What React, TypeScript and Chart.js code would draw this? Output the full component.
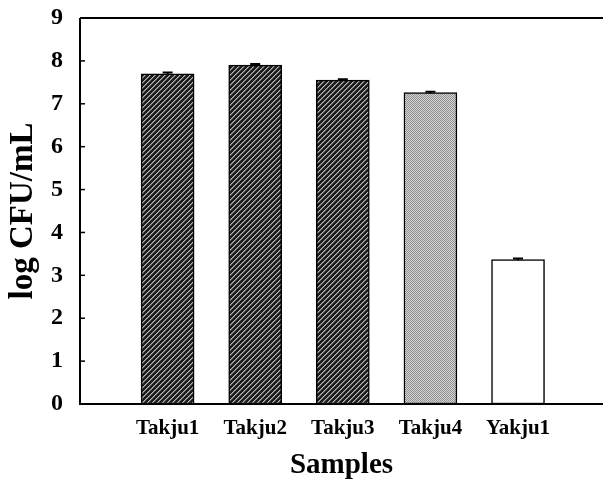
import React, { useEffect, useRef } from "react";
import { Chart, registerables } from "chart.js";

Chart.register(...registerables);

const categories = ["Takju1", "Takju2", "Takju3", "Takju4", "Yakju1"];
const values = [7.7, 7.9, 7.55, 7.26, 3.37];
const errors = [0.03, 0.03, 0.02, 0.02, 0.02];
const yTicks = [0, 1, 2, 3, 4, 5, 6, 7, 8, 9];
const xPositions = [1, 2, 3, 4, 5];

function makeHatch(): CanvasPattern | string {
  const c = document.createElement("canvas");
  c.width = 5;
  c.height = 5;
  const ctx = c.getContext("2d");
  if (!ctx) return "#444";
  ctx.fillStyle = "#1c1c1c";
  ctx.fillRect(0, 0, 5, 5);
  for (let i = 0; i < 5; i++) {
    ctx.fillStyle = "#b8b8b8";
    ctx.fillRect(i, 4 - i, 1, 1);
    ctx.fillStyle = "#6a6a6a";
    ctx.fillRect(i, (5 - i) % 5, 1, 1);
  }
  return ctx.createPattern(c, "repeat") || "#444";
}

function makeMottle(): CanvasPattern | string {
  const c = document.createElement("canvas");
  c.width = 2;
  c.height = 2;
  const ctx = c.getContext("2d");
  if (!ctx) return "#b0b0b0";
  ctx.fillStyle = "#d8d8d8";
  ctx.fillRect(0, 0, 2, 2);
  ctx.fillStyle = "#8c8c8c";
  ctx.fillRect(0, 0, 1, 1);
  ctx.fillRect(1, 1, 1, 1);
  return ctx.createPattern(c, "repeat") || "#b0b0b0";
}

const framePlugin = {
  id: "frame",
  afterDatasetsDraw(chart: any) {
    const { ctx, chartArea } = chart;
    const y = chart.scales.y;
    const meta = chart.getDatasetMeta(0);
    ctx.save();
    ctx.strokeStyle = "#000";
    ctx.lineWidth = 2;
    meta.data.forEach((bar: any, i: number) => {
      const yTop = y.getPixelForValue(values[i] + errors[i]);
      const yBot = y.getPixelForValue(values[i] - errors[i]);
      ctx.beginPath();
      ctx.moveTo(bar.x, yBot);
      ctx.lineTo(bar.x, yTop);
      ctx.moveTo(bar.x - 5, yTop);
      ctx.lineTo(bar.x + 5, yTop);
      ctx.stroke();
    });
    ctx.lineWidth = 2;
    ctx.beginPath();
    ctx.moveTo(chartArea.left, chartArea.top);
    ctx.lineTo(chartArea.right, chartArea.top);
    ctx.moveTo(chartArea.left, chartArea.top);
    ctx.lineTo(chartArea.left, chartArea.bottom);
    ctx.lineTo(chartArea.right, chartArea.bottom);
    ctx.stroke();
    ctx.lineWidth = 1.5;
    yTicks.forEach((t) => {
      const py = y.getPixelForValue(t);
      ctx.beginPath();
      ctx.moveTo(chartArea.left, py);
      ctx.lineTo(chartArea.left + 5, py);
      ctx.stroke();
    });
    ctx.restore();
  },
};

export default function App() {
  const ref = useRef<HTMLCanvasElement>(null);
  useEffect(() => {
    if (!ref.current) return;
    const hatch = makeHatch();
    const mottle = makeMottle();
    const fills = [hatch, hatch, hatch, mottle, "#ffffff"];
    const chart = new Chart(ref.current, {
      type: "bar",
      data: {
        datasets: [
          {
            data: values.map((v, i) => ({ x: xPositions[i], y: v })),
            backgroundColor: fills as any,
            borderColor: "#000",
            borderWidth: 1.5,
            borderSkipped: false,
            barThickness: 53,
          },
        ],
      },
      options: {
        animation: false,
        responsive: false,
        maintainAspectRatio: false,
        layout: { padding: { left: 0, right: 0, top: 18, bottom: 0 } },
        plugins: { legend: { display: false }, tooltip: { enabled: false } },
        scales: {
          x: {
            type: "linear",
            offset: false,
            min: 0,
            max: 5.97,
            grid: { display: false, drawTicks: false, offset: false },
            border: { display: false },
            afterBuildTicks: (scale: any) => {
              scale.ticks = xPositions.map((v) => ({ value: v }));
            },
            afterFit: (scale: any) => {
              scale.height = 79;
              scale.paddingLeft = 0;
              scale.paddingRight = 0;
            },
            ticks: {
              autoSkip: false,
              maxRotation: 0,
              padding: 12,
              color: "#000",
              font: { family: "Liberation Serif", size: 21, weight: "bold" },
              callback: (v: any) => {
                const i = xPositions.indexOf(Number(v));
                return i >= 0 ? categories[i] : "";
              },
            },
            title: {
              display: true,
              text: "Samples",
              color: "#000",
              padding: { top: 0, bottom: 0 },
              font: { family: "Liberation Serif", size: 29, weight: "bold" },
            },
          },
          y: {
            min: 0,
            max: 9,
            grid: { display: false, drawTicks: false },
            border: { display: false },
            afterBuildTicks: (scale: any) => {
              scale.ticks = yTicks.map((v) => ({ value: v }));
            },
            afterFit: (scale: any) => {
              scale.width = 80;
              scale.paddingTop = 0;
              scale.paddingBottom = 0;
            },
            ticks: {
              padding: 17,
              color: "#000",
              font: { family: "Liberation Serif", size: 24, weight: "bold" },
            },
            title: {
              display: true,
              text: "log CFU/mL",
              color: "#000",
              padding: { top: 4, bottom: 0 },
              font: { family: "Liberation Serif", size: 33, weight: "bold" },
            },
          },
        },
      },
      plugins: [framePlugin],
    });
    return () => chart.destroy();
  }, []);
  return (
    <div style={{ position: "absolute", left: 0, top: 0, width: 603, height: 483, background: "#fff" }}>
      <canvas ref={ref} width={603} height={483} style={{ display: "block" }} />
    </div>
  );
}
